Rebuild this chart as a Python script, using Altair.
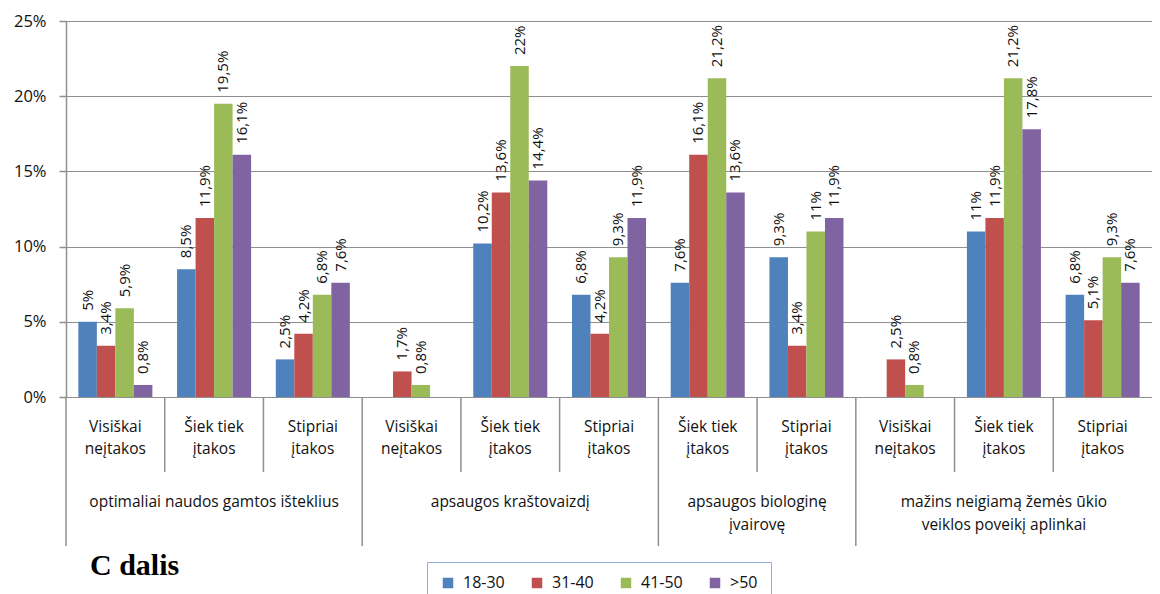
import altair as alt
import pandas as pd

# ---- data ----
categories = ["c1", "c2", "c3", "c4", "c5", "c6", "c7", "c8", "c9", "c10", "c11"]
sub_labels = [
    "Visiškai\nneįtakos", "Šiek tiek\nįtakos", "Stipriai\nįtakos",
    "Visiškai\nneįtakos", "Šiek tiek\nįtakos", "Stipriai\nįtakos",
    "Šiek tiek\nįtakos", "Stipriai\nįtakos",
    "Visiškai\nneįtakos", "Šiek tiek\nįtakos", "Stipriai\nįtakos",
]
series = ["18-30", "31-40", "41-50", ">50"]
colors = ["#4F81BD", "#C0504D", "#9BBB59", "#8064A2"]
v_18_30 = [5, 8.5, 2.5, None, 10.2, 6.8, 7.6, 9.3, None, 11, 6.8]
v_31_40 = [3.4, 11.9, 4.2, 1.7, 13.6, 4.2, 16.1, 3.4, 2.5, 11.9, 5.1]
v_41_50 = [5.9, 19.5, 6.8, 0.8, 22, 9.3, 21.2, 11, 0.8, 21.2, 9.3]
v_over_50 = [0.8, 16.1, 7.6, None, 14.4, 11.9, 13.6, 11.9, None, 17.8, 7.6]

group_mid_cats = ["c2", "c5", "c10"]
group_mid_labels = ["optimaliai naudos gamtos išteklius", "apsaugos kraštovaizdį",
                    "mažins neigiamą žemės ūkio\nveiklos poveikį aplinkai"]
group_edge_cats = ["c7"]
group_edge_labels = ["apsaugos biologinę\nįvairovę"]
group_start_cats = ["c1", "c4", "c7", "c9"]
sub_start_cats = ["c2", "c3", "c5", "c6", "c8", "c10", "c11"]
y_ticks = [0, 5, 10, 15, 20, 25]

# ---- tables ----
rows = []
for s, vals in zip(series, [v_18_30, v_31_40, v_41_50, v_over_50]):
    for c, v in zip(categories, vals):
        if v is None:
            continue
        rows.append({"cat": c, "series": s, "value": v,
                     "label": f"{v:g}".replace(".", ",") + "%"})
df = pd.DataFrame(rows)
df_sub = pd.DataFrame({"cat": categories, "label": sub_labels})
df_gmid = pd.DataFrame({"cat": group_mid_cats, "label": group_mid_labels})
df_gedge = pd.DataFrame({"cat": group_edge_cats, "label": group_edge_labels})
df_gsep = pd.DataFrame({"cat": group_start_cats})
df_ssep = pd.DataFrame({"cat": sub_start_cats})
df_title = pd.DataFrame({"t": ["C dalis"]})

W, H = 1086, 376
FONT = "Open Sans"
GRAY = "#8f8f8f"

xscale = alt.Scale(domain=categories, paddingInner=0, paddingOuter=0)
xoff = alt.XOffset("series:N", scale=alt.Scale(domain=series, paddingInner=0, paddingOuter=0.667))
yenc = alt.Y("value:Q", scale=alt.Scale(domain=[0, 25], nice=False, zero=True),
             axis=alt.Axis(values=y_ticks, labelExpr="datum.value + '%'", title=None,
                           grid=True, gridColor=GRAY, gridWidth=1,
                           domainColor=GRAY, domainWidth=1.5,
                           tickColor=GRAY, tickSize=7, tickWidth=1.5,
                           labelFont=FONT, labelFontSize=16.5, labelColor="#111",
                           labelPadding=13))

bars = alt.Chart(df).mark_bar().encode(
    x=alt.X("cat:N", scale=xscale, axis=None),
    xOffset=xoff,
    y=yenc,
    color=alt.Color("series:N", scale=alt.Scale(domain=series, range=colors),
                    legend=alt.Legend(orient="none", legendX=361, legendY=541,
                                      direction="horizontal", columns=4, title=None,
                                      symbolType="square", symbolSize=110,
                                      symbolStrokeWidth=0, labelFont=FONT,
                                      labelFontSize=16, labelColor="#111",
                                      labelOffset=7, columnPadding=24,
                                      padding=13, strokeColor="#8FAEDA",
                                      fillColor="white")),
)

labels = alt.Chart(df).mark_text(angle=270, align="left", baseline="middle", dx=11,
                                 font=FONT, fontSize=15, color="#111").encode(
    x=alt.X("cat:N", scale=xscale, axis=None),
    xOffset=xoff,
    y=alt.Y("value:Q"),
    text="label:N",
)

sub_text = alt.Chart(df_sub).mark_text(lineBreak="\n", baseline="alphabetic", align="center",
                                       lineHeight=22, font=FONT, fontSize=15.5,
                                       color="#111").encode(
    x=alt.X("cat:N", scale=xscale, axis=None),
    y=alt.value(H + 35),
    text="label:N",
)

gmid_text = alt.Chart(df_gmid).mark_text(lineBreak="\n", baseline="alphabetic", align="center",
                                         lineHeight=23, font=FONT, fontSize=15.5,
                                         color="#111").encode(
    x=alt.X("cat:N", scale=xscale, axis=None),
    y=alt.value(H + 110),
    text="label:N",
)

gedge_text = alt.Chart(df_gedge).mark_text(lineBreak="\n", baseline="alphabetic", align="center",
                                           lineHeight=23, font=FONT, fontSize=15.5,
                                           color="#111").encode(
    x=alt.X("cat:N", scale=xscale, axis=None, bandPosition=1),
    y=alt.value(H + 110),
    text="label:N",
)

gsep = alt.Chart(df_gsep).mark_rule(color=GRAY, strokeWidth=1.5).encode(
    x=alt.X("cat:N", scale=xscale, axis=None, bandPosition=0),
    y=alt.value(H), y2=alt.value(H + 149),
)

ssep = alt.Chart(df_ssep).mark_rule(color=GRAY, strokeWidth=1.5).encode(
    x=alt.X("cat:N", scale=xscale, axis=None, bandPosition=0),
    y=alt.value(H), y2=alt.value(H + 75),
)

title = alt.Chart(df_title).mark_text(align="left", baseline="alphabetic",
                                      font="Liberation Serif", fontSize=30,
                                      fontWeight="bold", color="#000").encode(
    x=alt.value(24), y=alt.value(554), text="t:N",
)

chart = alt.layer(bars, labels, sub_text, gmid_text, gedge_text, gsep, ssep, title).properties(
    width=W, height=H,
    padding={"left": 58, "top": 13, "right": 0, "bottom": 197},
    autosize=alt.AutoSizeParams(type="none"),
).configure_view(stroke=None).configure(background="white")

chart.save("out.html", embed_options={"renderer": "svg", "actions": False})
